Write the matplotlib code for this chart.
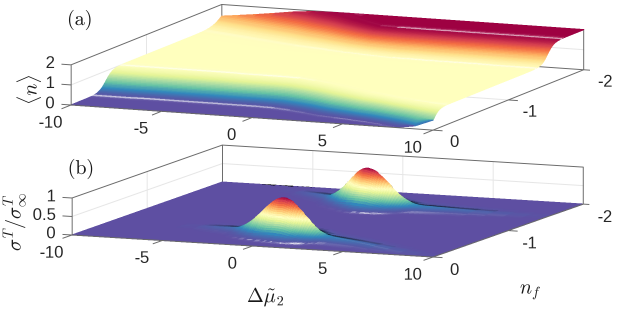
from matplotlib import pyplot as plt
from mpl_toolkits.mplot3d import proj3d
import numpy as np

plt.rcParams["font.family"] = ["Liberation Sans", "DejaVu Sans"]
plt.rcParams["mathtext.fontset"] = "cm"

W, H = 623, 312

# Panel (a): occupation plateaus
delta_a = list(range(-10, 11))
low_foot = [.32, .32, .32, .33, .33, .33, .33, .33, .33, .33, .32, .29, .25, .20, .17, .14, .11, .07, .02, -.05, -.12]
low_top = [.61, .61, .61, .61, .61, .61, .61, .60, .60, .60, .59, .55, .50, .44, .38, .32, .28, .23, .19, .15, .12]
up_foot = [1.80, 1.76, 1.72, 1.68, 1.64, 1.60, 1.56, 1.53, 1.50, 1.47, 1.45, 1.43, 1.41, 1.41, 1.40, 1.40, 1.40, 1.40, 1.39, 1.39, 1.39]
up_top = [2.25, 2.20, 2.15, 2.10, 2.05, 2.00, 1.93, 1.87, 1.79, 1.72, 1.66, 1.65, 1.65, 1.65, 1.65, 1.65, 1.65, 1.65, 1.65, 1.65, 1.65]
front_edge = [0, 0, 0, 0, 0, 0, 0, 0, 0, 0, 0, 0, 0, 0, 0, 0, 0, 0, .02, .15, .50]
back_edge = [1.42, 1.52, 1.63, 1.75, 1.88, 1.96, 1.99, 2, 2, 2, 2, 2, 2, 2, 2, 2, 2, 2, 2, 2, 2]
step_level = [.002, .005, .01, .015, .02, .03, .04, .06, .08, .10, .125, .15, .175, .20, .225, .25, .275, .30, .35, .40, .45, .50,
              .55, .60, .65, .70, .725, .75, .775, .80, .825, .85, .875, .90, .92, .94, .96, .97, .98, .985, .99, .995, .998]
step_frac = [-.476, -.332, -.223, -.157, -.112, -.047, 0, .068, .116, .154, .194, .228, .257, .282, .305, .327, .347, .367, .403, .436, .469, .50,
             .531, .564, .597, .633, .653, .673, .695, .718, .743, .772, .806, .846, .884, .932, 1, 1.047, 1.112, 1.157, 1.223, 1.332, 1.476]

# Panel (b): two ridges, crest position and height per station
delta_b = [-10, -9, -8, -7, -6, -5, -4.75, -4.5, -4.25, -4, -3.75, -3.5, -3.25,
           -3, -2.875, -2.75, -2.625, -2.5, -2.375, -2.25, -2.125, -2, -1.875, -1.75, -1.625, -1.5, -1.375, -1.25, -1.125,
           -1, -.875, -.75, -.625, -.5, -.375, -.25, -.125, 0, .125, .25, .375, .5, .625, .75, .875,
           1, 1.125, 1.25, 1.375, 1.5, 1.625, 1.75, 1.875, 2, 2.125, 2.25, 2.375, 2.5, 2.625, 2.75, 2.875, 3,
           3.25, 3.5, 3.75, 4, 4.25, 4.5, 4.75, 5, 6, 7, 8, 9, 10]
ridge_amp = [0, 0, .001, .003, .008, .018, .022, .027, .032, .037, .042, .048, .055,
             .066, .075, .089, .11, .135, .164, .198, .236, .278, .325, .375, .43, .487, .546, .607, .667,
             .726, .783, .835, .882, .923, .956, .98, .995, 1, .995, .98, .956, .923, .882, .835, .783,
             .726, .667, .607, .546, .487, .43, .375, .325, .278, .236, .198, .164, .135, .118, .105, .097, .09,
             .085, .08, .075, .07, .065, .06, .055, .05, .035, .022, .014, .008, .004]
crest_low = [.48, .48, .49, .50, .50, .50, .50, .50, .50, .49, .49, .49, .48,
             .48, .48, .48, .47, .47, .47, .47, .46, .46, .46, .46, .45, .45, .45, .45, .44,
             .44, .44, .44, .43, .43, .43, .43, .42, .42, .42, .41, .41, .41, .40, .40, .39,
             .39, .39, .38, .38, .38, .37, .37, .36, .36, .35, .35, .35, .34, .34, .34, .33, .33,
             .32, .31, .30, .29, .28, .27, .26, .25, .20, .15, .10, .05, 0]
crest_up = [2.02, 1.98, 1.93, 1.89, 1.84, 1.80, 1.79, 1.78, 1.76, 1.75, 1.74, 1.73, 1.71,
            1.70, 1.70, 1.69, 1.68, 1.67, 1.67, 1.66, 1.65, 1.65, 1.64, 1.64, 1.63, 1.62, 1.61, 1.61, 1.60,
            1.60, 1.59, 1.58, 1.57, 1.57, 1.56, 1.55, 1.54, 1.54, 1.53, 1.53, 1.53, 1.53, 1.52, 1.52, 1.52,
            1.52, 1.52, 1.52, 1.51, 1.51, 1.51, 1.51, 1.51, 1.51, 1.51, 1.51, 1.51, 1.51, 1.51, 1.51, 1.51, 1.51,
            1.51, 1.51, 1.51, 1.51, 1.51, 1.51, 1.51, 1.51, 1.51, 1.51, 1.51, 1.51, 1.51]
cross_off = [0, .006, .012, .019, .0275, .034, .040, .046, .052, .058, .0635, .069, .074, .080, .0866, .094, .1016, .114, .13, .15,
             .172, .19, .21, .23, .255, .28, .305, .34, .38]
cross_z = [1, .995, .98, .95, .90, .85, .80, .75, .70, .65, .60, .55, .50, .45, .40, .35, .30, .25, .20, .15,
           .10, .07, .05, .035, .02, .01, .005, .002, 0]

# Ticks
delta_ticks = [-10, -5, 0, 5, 10]
nf_ticks = [0, -1, -2]
z_ticks_a = [0, 1, 2]
z_ticks_b = [0, 0.5, 1]
z_labels_b = ["0", "0.5", "1"]

FRAME = "#6a6a6a"
GRID = "#e6e6e6"
AZIM = -67.4
BOX = 391.0
SS = 3


def shaded(X, Y, Z, zmax, lz, elev, glare_weight=1.0):
    # colours from height, rim darkening and a narrow glare from the mesh normals
    P = np.dstack([(X + 10) * BOX / 20, -Y * BOX / 2, Z * lz])
    di = np.gradient(P, axis=0)
    dj = np.gradient(P, axis=1)
    nrm = np.cross(dj, di)
    size = np.linalg.norm(nrm, axis=2, keepdims=True)
    nrm = np.where(size > 1e-9, nrm / np.maximum(size, 1e-9), np.array([0, 0, 1.0]))
    nrm = nrm * np.sign(nrm[..., 2:3] + 1e-12)
    e, a = np.radians(elev), np.radians(AZIM)
    view = np.array([np.cos(e) * np.cos(a), np.cos(e) * np.sin(a), np.sin(e)])
    facing = np.clip((nrm @ view) / (0.8 * np.sin(e)), 0, 1)[..., None]
    glare = np.exp(-(((nrm[..., 0] - 0.006) ** 2 + (nrm[..., 1] + 0.042) ** 2) / 0.016**2))
    glare = (glare * glare_weight)[..., None]
    rgb = plt.cm.Spectral_r(np.clip(Z / zmax, 0, 1))[..., :3] * facing
    rgb = rgb * (1 - 0.9 * glare) + 0.9 * glare
    return np.dstack([rgb, np.ones(Z.shape)])


def make_panel(elev, lz, zmax, corner_left, corner_right):
    ax = fig.add_subplot(projection="3d", computed_zorder=False, proj_type="ortho")
    ax.view_init(elev=elev, azim=AZIM)
    ax.set_box_aspect((BOX, BOX, lz * zmax))
    ax.set_xlim(-10, 10)
    ax.set_ylim(0, -2)
    ax.set_zlim(0, zmax)
    ax.set_axis_off()
    ax.patch.set_visible(False)
    # put the two front corners on their pixels (the 3d box stays square)
    M = ax.get_proj()
    u1, v1, _ = proj3d.proj_transform(-10, 0, 0, M)
    u2, v2, _ = proj3d.proj_transform(10, 0, 0, M)
    vl = ax.viewLim
    f1 = (u1 - vl.x0) / vl.width
    f2 = (u2 - vl.x0) / vl.width
    side = (corner_right[0] - corner_left[0]) / (f2 - f1)
    x0 = corner_left[0] - side * f1
    y0 = (H - corner_left[1]) - side * (v1 - vl.y0) / vl.height
    ax.set_position([x0 / W, y0 / H, side / W, side / H])
    return ax


def draw_frame(ax, ticks_z, labels_z, zmax, zpad):
    # back walls and floor grid
    for d in delta_ticks[1:-1]:
        ax.plot([d, d], [-2, -2], [0, zmax], color=GRID, lw=0.7, zorder=1)
        ax.plot([d, d], [0, -2], [0, 0], color=GRID, lw=0.7, zorder=1)
    for n in nf_ticks[1:-1]:
        ax.plot([-10, -10], [n, n], [0, zmax], color=GRID, lw=0.7, zorder=1)
        ax.plot([-10, 10], [n, n], [0, 0], color=GRID, lw=0.7, zorder=1)
    for z in ticks_z[1:-1]:
        ax.plot([-10, -10], [0, -2], [z, z], color=GRID, lw=0.7, zorder=1)
        ax.plot([-10, 10], [-2, -2], [z, z], color=GRID, lw=0.7, zorder=1)
    ax.plot([-10, 10], [-2, -2], [0, 0], color=FRAME, lw=0.7, zorder=1)
    ax.plot([-10, -10], [-2, -2], [0, zmax], color=FRAME, lw=0.7, zorder=1)
    ax.plot([-10, -10, 10, 10], [0, -2, -2, -2], [zmax, zmax, zmax, 0], color=FRAME, lw=0.7, zorder=1)
    # front axes
    ax.plot([-10, 10, 10], [0, 0, -2], [0, 0, 0], color=FRAME, lw=0.7, zorder=3)
    ax.plot([-10, -10], [0, 0], [0, zmax], color=FRAME, lw=0.7, zorder=3)
    for d in delta_ticks:
        ax.plot([d, d], [0, 0.12], [0, 0], color=FRAME, lw=0.7, zorder=3)
        ax.text(d, 0.27, -zpad, str(d), ha="center", va="center", fontsize=12, color="#262626", clip_on=False)
    for n in nf_ticks:
        ax.plot([10, 10.5], [n, n], [0, 0], color=FRAME, lw=0.7, zorder=3)
        ax.text(11.2, n, -1.1 * zpad, str(n), ha="center", va="center", fontsize=12, color="#262626", clip_on=False)
    for z, lab in zip(ticks_z, labels_z):
        ax.plot([-10.5, -10], [0, 0], [z, z], color=FRAME, lw=0.7, zorder=3)
        ax.text(-10.9, 0, z, lab, ha="right", va="center", fontsize=12, color="#262626", clip_on=False)


def surface_a():
    d = np.array(delta_a, dtype=float)
    frac = np.array(step_frac)[:, None]
    lev = np.array(step_level)
    low = np.array(low_foot) + frac * (np.array(low_top) - np.array(low_foot))
    up = np.array(up_foot) + frac * (np.array(up_top) - np.array(up_foot))
    n = np.vstack([np.zeros_like(d), low, up, np.full_like(d, 2.0)])
    z = np.concatenate([[0], lev, 1 + lev, [2]])
    Z = np.tile(z[:, None], (1, d.size))
    front = np.array(front_edge)
    back = np.array(back_edge)
    Z = np.minimum(np.maximum(Z, front), back)
    Z[0] = front
    Z[-1] = back
    n = np.clip(n, 0, 2)
    X = np.tile(d, (z.size, 1))
    return X, -n, Z


def surface_b():
    d = np.array(delta_b, dtype=float)
    off = np.array(cross_off)
    prof = np.array(cross_z)
    off = np.concatenate([-off[:0:-1], off])[:, None]
    prof = np.concatenate([prof[:0:-1], prof])[:, None]
    amp = np.array(ridge_amp)
    n = np.vstack([np.zeros_like(d), np.array(crest_low) + off, np.array(crest_up) + off, np.full_like(d, 2.0)])
    Z = np.vstack([np.zeros_like(d), prof * amp, prof * amp, np.zeros_like(d)])
    n = np.clip(n, 0, 2)
    X = np.tile(d, (n.shape[0], 1))
    return X, -n, Z


fig = plt.figure(figsize=(W / 100, H / 100), dpi=100 * SS)

ax_a = make_panel(9.6, 20.3, 2, (71, 105), (433, 129.5))
X, Y, Z = surface_a()
ax_a.plot_surface(X, Y, Z, facecolors=shaded(X, Y, Z, 2, 20.3, 9.6), shade=False,
                  rstride=1, cstride=1, linewidth=0.5, antialiased=False, zorder=2)
draw_frame(ax_a, z_ticks_a, [str(z) for z in z_ticks_a], 2, 0.5)

ax_b = make_panel(8.43, 37.4, 1, (72, 235), (433, 257))
X, Y, Z = surface_b()
# the glare only shows where the ridge is tall
weight = np.clip(np.array(ridge_amp) / 0.3, 0, 1)
ax_b.plot_surface(X, Y, Z, facecolors=shaded(X, Y, Z, 1, 37.4, 8.43, weight), shade=False,
                  rstride=1, cstride=1, linewidth=0.5, antialiased=False, zorder=2)
draw_frame(ax_b, z_ticks_b, z_labels_b, 1, 0.3)


def px_text(x, y, s, **kw):
    fig.text(x / W, 1 - y / H, s, ha="center", va="center", color="#1a1a1a", **kw)


px_text(79, 20, r"$\mathrm{(a)}$", fontsize=14.5)
px_text(80, 169, r"$\mathrm{(b)}$", fontsize=14.5)
px_text(29, 90, r"$\langle n \rangle$", fontsize=14.5, rotation=90)
px_text(15, 222, r"$\sigma^T/\sigma^T_\infty$", fontsize=14.5, rotation=90)
px_text(265, 297, r"$\Delta\tilde{\mu}_2$", fontsize=14.5)
px_text(530, 291, r"$n_f$", fontsize=14.5)

# render large and average down to the final pixel size
fig.canvas.draw()
big = np.asarray(fig.canvas.buffer_rgba())[..., :3] / 255.0
small = big[:H * SS, :W * SS].reshape(H, SS, W, SS, 3).mean(axis=(1, 3))
plt.imsave("out.png", small)
